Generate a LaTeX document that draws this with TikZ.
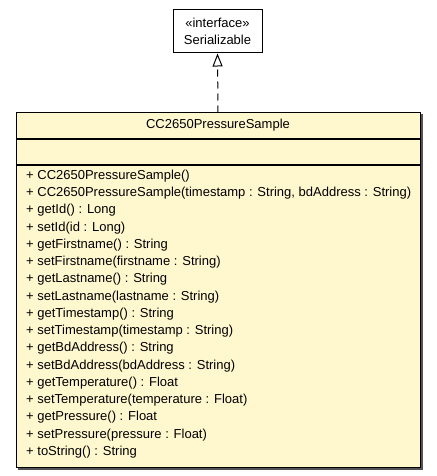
\documentclass[tikz,border=0pt]{standalone}
\usepackage{fontspec}
\setmainfont{Liberation Sans}
\usetikzlibrary{arrows.meta,backgrounds,calc}
\definecolor{classfill}{HTML}{FFF8CF}
\definecolor{shadowgray}{rgb}{0.33,0.33,0.33}
\tikzset{
  umlbox/.style={draw=black, line width=1pt, fill=classfill, inner sep=0pt},
  op/.style={anchor=west, inner sep=0pt, font=\fontsize{13}{15}\selectfont}
}
\begin{document}
\begin{tikzpicture}[x=1pt,y=-1pt]
\useasboundingbox (0,0) rectangle (436,476);

\node[draw, line width=1pt, fill=white, minimum width=89, minimum height=43, align=center,
      font=\fontsize{13}{17}\selectfont] (serializable) at (217.5,31.5) {«interface»\\Serializable};

\node[umlbox, minimum width=404, minimum height=25, font=\fontsize{13}{15}\selectfont] (head) at (218,125.5) {CC2650PressureSample};
\node[umlbox, minimum width=404, minimum height=25, anchor=north] (attrs) at (head.south) {};
\node[umlbox, minimum width=404, minimum height=302, anchor=north] (ops) at (attrs.south) {};

\begin{scope}[on background layer]
\fill[shadowgray] ($(head.north west)+(2,2)$) rectangle ($(ops.south east)+(2,2)$);
\end{scope}

\foreach \t [count=\i] in {{+ CC2650PressureSample()},
  {+ CC2650PressureSample(timestamp : String, bdAddress : String)},
  {+ getId() : Long}, {+ setId(id : Long)},
  {+ getFirstname() : String}, {+ setFirstname(firstname : String)},
  {+ getLastname() : String}, {+ setLastname(lastname : String)},
  {+ getTimestamp() : String}, {+ setTimestamp(timestamp : String)},
  {+ getBdAddress() : String}, {+ setBdAddress(bdAddress : String)},
  {+ getTemperature() : Float}, {+ setTemperature(temperature : Float)},
  {+ getPressure() : Float}, {+ setPressure(pressure : Float)},
  {+ toString() : String}}
  \node[op] (op\i) at (26,{176+17.25*(\i-1)}) {\t};

\draw[line width=1pt, dash pattern=on 7pt off 5pt, -{Triangle[open, length=13pt, width=10pt]}]
  (head.north) -- (serializable.south);
\end{tikzpicture}
\end{document}
